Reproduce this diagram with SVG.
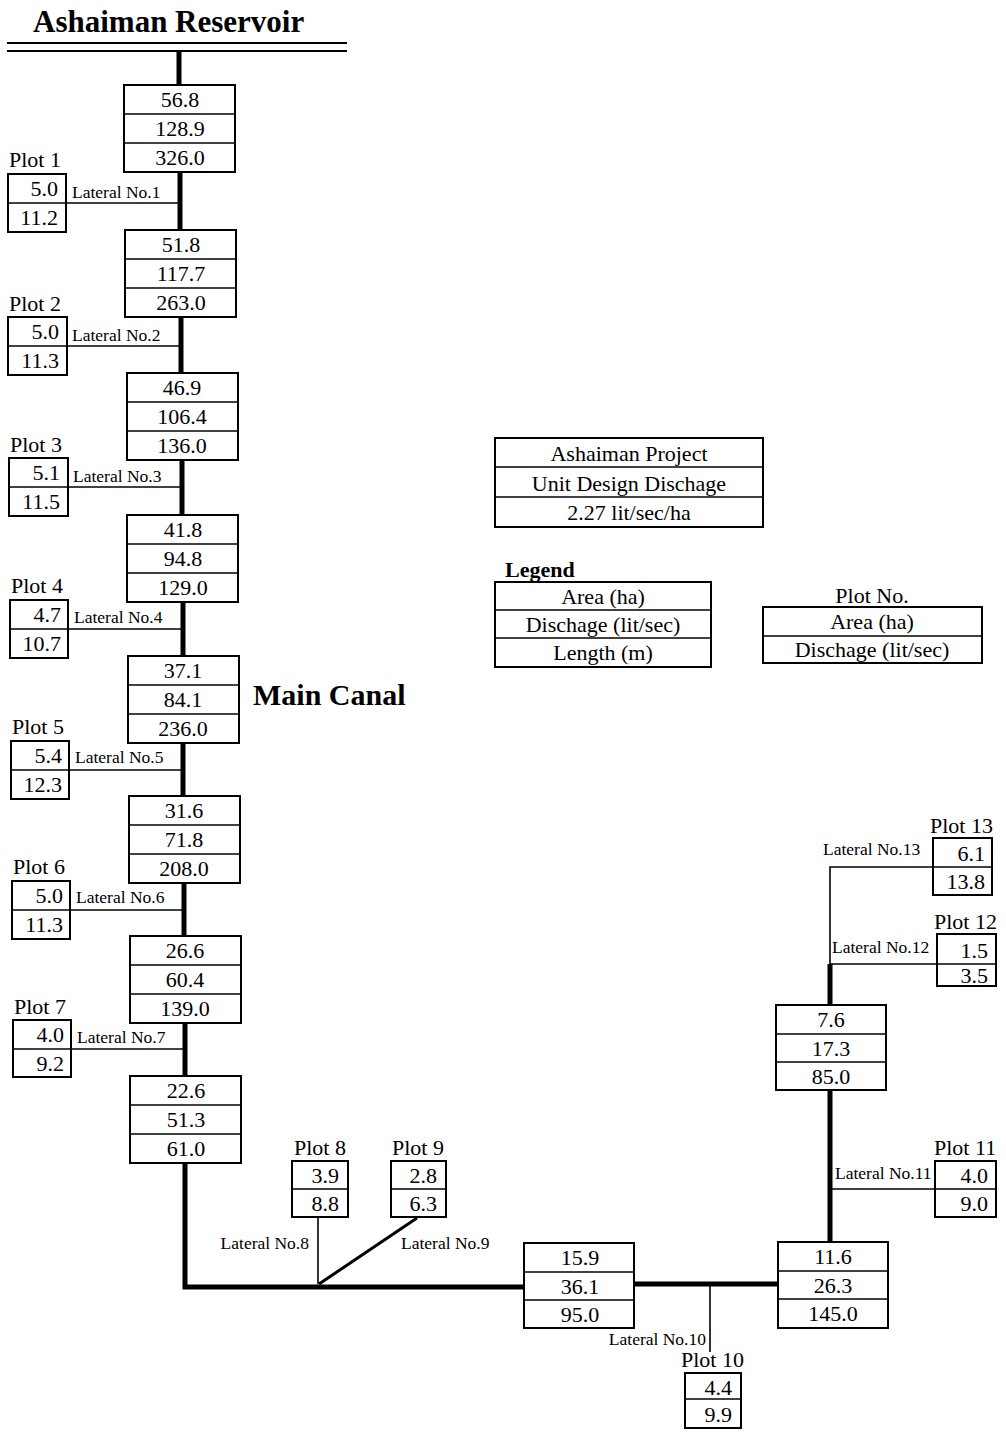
<svg xmlns="http://www.w3.org/2000/svg" width="1006" height="1433" viewBox="0 0 1006 1433">
<style>
.bx{fill:#fff;stroke:#000;stroke-width:2}
.dv{stroke:#000;stroke-width:1.5}
.t{font-family:"Liberation Serif","Times New Roman",serif;font-size:22px;fill:#000}
.c{text-anchor:middle}
.r{text-anchor:end}
.lat{font-family:"Liberation Serif","Times New Roman",serif;font-size:17.5px;fill:#000}
.big{font-family:"Liberation Serif","Times New Roman",serif;font-weight:bold;fill:#000}
.mc{stroke:#000;stroke-width:5;fill:none}
.ln{stroke:#000;stroke-width:1.6;fill:none}
.dg{stroke:#000;stroke-width:3;fill:none}
</style>
<rect width="1006" height="1433" fill="#fff"/>
<g id="reservoir">
<text class="big" x="33" y="32" font-size="31">Ashaiman Reservoir</text>
<line x1="7" y1="43" x2="347" y2="43" stroke="#000" stroke-width="2"/>
<line x1="7" y1="51" x2="347" y2="51" stroke="#000" stroke-width="2"/>
</g>
<text id="main-canal-label" class="big" x="253" y="705" font-size="30">Main Canal</text>
<g id="connectors">
<line class="mc" x1="179" y1="51" x2="179" y2="86"/>
<line class="mc" x1="180" y1="172" x2="180" y2="231"/>
<line class="mc" x1="181" y1="317" x2="181" y2="374"/>
<line class="mc" x1="182" y1="460" x2="182" y2="516"/>
<line class="mc" x1="183" y1="602" x2="183" y2="657"/>
<line class="mc" x1="183" y1="743" x2="183" y2="797"/>
<line class="mc" x1="184" y1="883" x2="184" y2="937"/>
<line class="mc" x1="185" y1="1023" x2="185" y2="1077"/>
<polyline class="mc" points="185,1163 185,1287 525,1287"/>
<line class="mc" x1="634" y1="1284" x2="779" y2="1284"/>
<line class="mc" x1="830" y1="1242" x2="830" y2="1090"/>
<line class="mc" x1="830" y1="1005" x2="830" y2="964"/>
<polyline class="ln" points="830,966 830,867 933,867"/>
<line class="ln" x1="830" y1="964" x2="937" y2="964"/>
<line class="ln" x1="832" y1="1189" x2="935" y2="1189"/>
<line class="ln" x1="710" y1="1284" x2="710" y2="1352"/>
<line class="ln" x1="318" y1="1217" x2="318" y2="1284"/>
<line class="dg" x1="417" y1="1218" x2="319" y2="1284"/>
<line class="ln" x1="66" y1="203" x2="180" y2="203"/>
<line class="ln" x1="66" y1="346" x2="181" y2="346"/>
<line class="ln" x1="67" y1="487" x2="182" y2="487"/>
<line class="ln" x1="68" y1="629" x2="183" y2="629"/>
<line class="ln" x1="69" y1="770" x2="183" y2="770"/>
<line class="ln" x1="70" y1="910" x2="184" y2="910"/>
<line class="ln" x1="71" y1="1049" x2="185" y2="1049"/>
<text class="lat" x="72" y="198">Lateral No.1</text>
<text class="lat" x="72" y="341">Lateral No.2</text>
<text class="lat" x="73" y="482">Lateral No.3</text>
<text class="lat" x="74" y="623">Lateral No.4</text>
<text class="lat" x="75" y="763">Lateral No.5</text>
<text class="lat" x="76" y="903">Lateral No.6</text>
<text class="lat" x="77" y="1043">Lateral No.7</text>
<text class="lat r" x="309" y="1249">Lateral No.8</text>
<text class="lat" x="401" y="1249">Lateral No.9</text>
<text class="lat r" x="706" y="1345">Lateral No.10</text>
<text class="lat" x="835" y="1179">Lateral No.11</text>
<text class="lat" x="832" y="953">Lateral No.12</text>
<text class="lat" x="823" y="855">Lateral No.13</text>
</g>
<g id="seg1"><rect class="bx" x="124" y="85" width="111" height="87"/><line class="dv" x1="124" y1="114" x2="235" y2="114"/><line class="dv" x1="124" y1="143" x2="235" y2="143"/><text class="t c" x="180" y="107">56.8</text><text class="t c" x="180" y="136">128.9</text><text class="t c" x="180" y="165">326.0</text></g>
<g id="seg2"><rect class="bx" x="125" y="230" width="111" height="87"/><line class="dv" x1="125" y1="259" x2="236" y2="259"/><line class="dv" x1="125" y1="288" x2="236" y2="288"/><text class="t c" x="181" y="252">51.8</text><text class="t c" x="181" y="281">117.7</text><text class="t c" x="181" y="310">263.0</text></g>
<g id="seg3"><rect class="bx" x="127" y="373" width="111" height="87"/><line class="dv" x1="127" y1="402" x2="238" y2="402"/><line class="dv" x1="127" y1="431" x2="238" y2="431"/><text class="t c" x="182" y="395">46.9</text><text class="t c" x="182" y="424">106.4</text><text class="t c" x="182" y="453">136.0</text></g>
<g id="seg4"><rect class="bx" x="127" y="515" width="111" height="87"/><line class="dv" x1="127" y1="544" x2="238" y2="544"/><line class="dv" x1="127" y1="573" x2="238" y2="573"/><text class="t c" x="183" y="537">41.8</text><text class="t c" x="183" y="566">94.8</text><text class="t c" x="183" y="595">129.0</text></g>
<g id="seg5"><rect class="bx" x="128" y="656" width="111" height="87"/><line class="dv" x1="128" y1="685" x2="239" y2="685"/><line class="dv" x1="128" y1="714" x2="239" y2="714"/><text class="t c" x="183" y="678">37.1</text><text class="t c" x="183" y="707">84.1</text><text class="t c" x="183" y="736">236.0</text></g>
<g id="seg6"><rect class="bx" x="129" y="796" width="111" height="87"/><line class="dv" x1="129" y1="825" x2="240" y2="825"/><line class="dv" x1="129" y1="854" x2="240" y2="854"/><text class="t c" x="184" y="818">31.6</text><text class="t c" x="184" y="847">71.8</text><text class="t c" x="184" y="876">208.0</text></g>
<g id="seg7"><rect class="bx" x="130" y="936" width="111" height="87"/><line class="dv" x1="130" y1="965" x2="241" y2="965"/><line class="dv" x1="130" y1="994" x2="241" y2="994"/><text class="t c" x="185" y="958">26.6</text><text class="t c" x="185" y="987">60.4</text><text class="t c" x="185" y="1016">139.0</text></g>
<g id="seg8"><rect class="bx" x="130" y="1076" width="111" height="87"/><line class="dv" x1="130" y1="1105" x2="241" y2="1105"/><line class="dv" x1="130" y1="1134" x2="241" y2="1134"/><text class="t c" x="186" y="1098">22.6</text><text class="t c" x="186" y="1127">51.3</text><text class="t c" x="186" y="1156">61.0</text></g>
<g id="seg9"><rect class="bx" x="524" y="1243" width="110" height="85"/><line class="dv" x1="524" y1="1272" x2="634" y2="1272"/><line class="dv" x1="524" y1="1300" x2="634" y2="1300"/><text class="t c" x="580" y="1265">15.9</text><text class="t c" x="580" y="1294">36.1</text><text class="t c" x="580" y="1322">95.0</text></g>
<g id="seg10"><rect class="bx" x="778" y="1242" width="110" height="86"/><line class="dv" x1="778" y1="1271" x2="888" y2="1271"/><line class="dv" x1="778" y1="1299" x2="888" y2="1299"/><text class="t c" x="833" y="1264">11.6</text><text class="t c" x="833" y="1293">26.3</text><text class="t c" x="833" y="1321">145.0</text></g>
<g id="seg11"><rect class="bx" x="776" y="1005" width="110" height="85"/><line class="dv" x1="776" y1="1034" x2="886" y2="1034"/><line class="dv" x1="776" y1="1062" x2="886" y2="1062"/><text class="t c" x="831" y="1027">7.6</text><text class="t c" x="831" y="1056">17.3</text><text class="t c" x="831" y="1084">85.0</text></g>
<g id="plot1"><text class="t" x="9" y="167">Plot 1</text><rect class="bx" x="8" y="174" width="58" height="58"/><line class="dv" x1="8" y1="203" x2="66" y2="203"/><text class="t r" x="58" y="196">5.0</text><text class="t r" x="58" y="225">11.2</text></g>
<g id="plot2"><text class="t" x="9" y="311">Plot 2</text><rect class="bx" x="8" y="317" width="59" height="58"/><line class="dv" x1="8" y1="346" x2="67" y2="346"/><text class="t r" x="59" y="339">5.0</text><text class="t r" x="59" y="368">11.3</text></g>
<g id="plot3"><text class="t" x="10" y="452">Plot 3</text><rect class="bx" x="9" y="458" width="59" height="58"/><line class="dv" x1="9" y1="487" x2="68" y2="487"/><text class="t r" x="60" y="480">5.1</text><text class="t r" x="60" y="509">11.5</text></g>
<g id="plot4"><text class="t" x="11" y="593">Plot 4</text><rect class="bx" x="10" y="600" width="58" height="58"/><line class="dv" x1="10" y1="629" x2="68" y2="629"/><text class="t r" x="61" y="622">4.7</text><text class="t r" x="61" y="651">10.7</text></g>
<g id="plot5"><text class="t" x="12" y="734">Plot 5</text><rect class="bx" x="11" y="741" width="58" height="58"/><line class="dv" x1="11" y1="770" x2="69" y2="770"/><text class="t r" x="62" y="763">5.4</text><text class="t r" x="62" y="792">12.3</text></g>
<g id="plot6"><text class="t" x="13" y="874">Plot 6</text><rect class="bx" x="12" y="881" width="58" height="58"/><line class="dv" x1="12" y1="910" x2="70" y2="910"/><text class="t r" x="63" y="903">5.0</text><text class="t r" x="63" y="932">11.3</text></g>
<g id="plot7"><text class="t" x="14" y="1014">Plot 7</text><rect class="bx" x="13" y="1020" width="58" height="57"/><line class="dv" x1="13" y1="1049" x2="71" y2="1049"/><text class="t r" x="64" y="1042">4.0</text><text class="t r" x="64" y="1071">9.2</text></g>
<g id="plot8"><text class="t" x="294" y="1155">Plot 8</text><rect class="bx" x="292" y="1161" width="56" height="56"/><line class="dv" x1="292" y1="1189" x2="348" y2="1189"/><text class="t r" x="339" y="1183">3.9</text><text class="t r" x="339" y="1211">8.8</text></g>
<g id="plot9"><text class="t" x="392" y="1155">Plot 9</text><rect class="bx" x="391" y="1161" width="55" height="56"/><line class="dv" x1="391" y1="1189" x2="446" y2="1189"/><text class="t r" x="437" y="1183">2.8</text><text class="t r" x="437" y="1211">6.3</text></g>
<g id="plot10"><text class="t" x="681" y="1367">Plot 10</text><rect class="bx" x="685" y="1373" width="56" height="55"/><line class="dv" x1="685" y1="1399" x2="741" y2="1399"/><text class="t r" x="732" y="1395">4.4</text><text class="t r" x="732" y="1422">9.9</text></g>
<g id="plot11"><text class="t" x="934" y="1155">Plot 11</text><rect class="bx" x="935" y="1161" width="61" height="56"/><line class="dv" x1="935" y1="1189" x2="996" y2="1189"/><text class="t r" x="988" y="1183">4.0</text><text class="t r" x="988" y="1211">9.0</text></g>
<g id="plot12"><text class="t" x="934" y="929">Plot 12</text><rect class="bx" x="937" y="934" width="59" height="52"/><line class="dv" x1="937" y1="964" x2="996" y2="964"/><text class="t r" x="988" y="958">1.5</text><text class="t r" x="988" y="983">3.5</text></g>
<g id="plot13"><text class="t" x="930" y="833">Plot 13</text><rect class="bx" x="933" y="838" width="59" height="57"/><line class="dv" x1="933" y1="867" x2="992" y2="867"/><text class="t r" x="985" y="861">6.1</text><text class="t r" x="985" y="889">13.8</text></g>
<g id="project-info"><rect class="bx" x="495" y="438" width="268" height="89"/><line class="dv" x1="495" y1="467" x2="763" y2="467"/><line class="dv" x1="495" y1="497" x2="763" y2="497"/><text class="t c" x="629" y="461">Ashaiman Project</text><text class="t c" x="629" y="491">Unit Design Dischage</text><text class="t c" x="629" y="520">2.27 lit/sec/ha</text></g>
<g id="legend-segment"><text class="t" x="505" y="577" font-weight="bold">Legend</text><rect class="bx" x="495" y="582" width="216" height="85"/><line class="dv" x1="495" y1="610" x2="711" y2="610"/><line class="dv" x1="495" y1="638" x2="711" y2="638"/><text class="t c" x="603" y="604">Area (ha)</text><text class="t c" x="603" y="632">Dischage (lit/sec)</text><text class="t c" x="603" y="660">Length (m)</text></g>
<g id="legend-plot"><text class="t c" x="872" y="603">Plot No.</text><rect class="bx" x="763" y="607" width="219" height="56"/><line class="dv" x1="763" y1="636" x2="982" y2="636"/><text class="t c" x="872" y="629">Area (ha)</text><text class="t c" x="872" y="657">Dischage (lit/sec)</text></g>
</svg>
